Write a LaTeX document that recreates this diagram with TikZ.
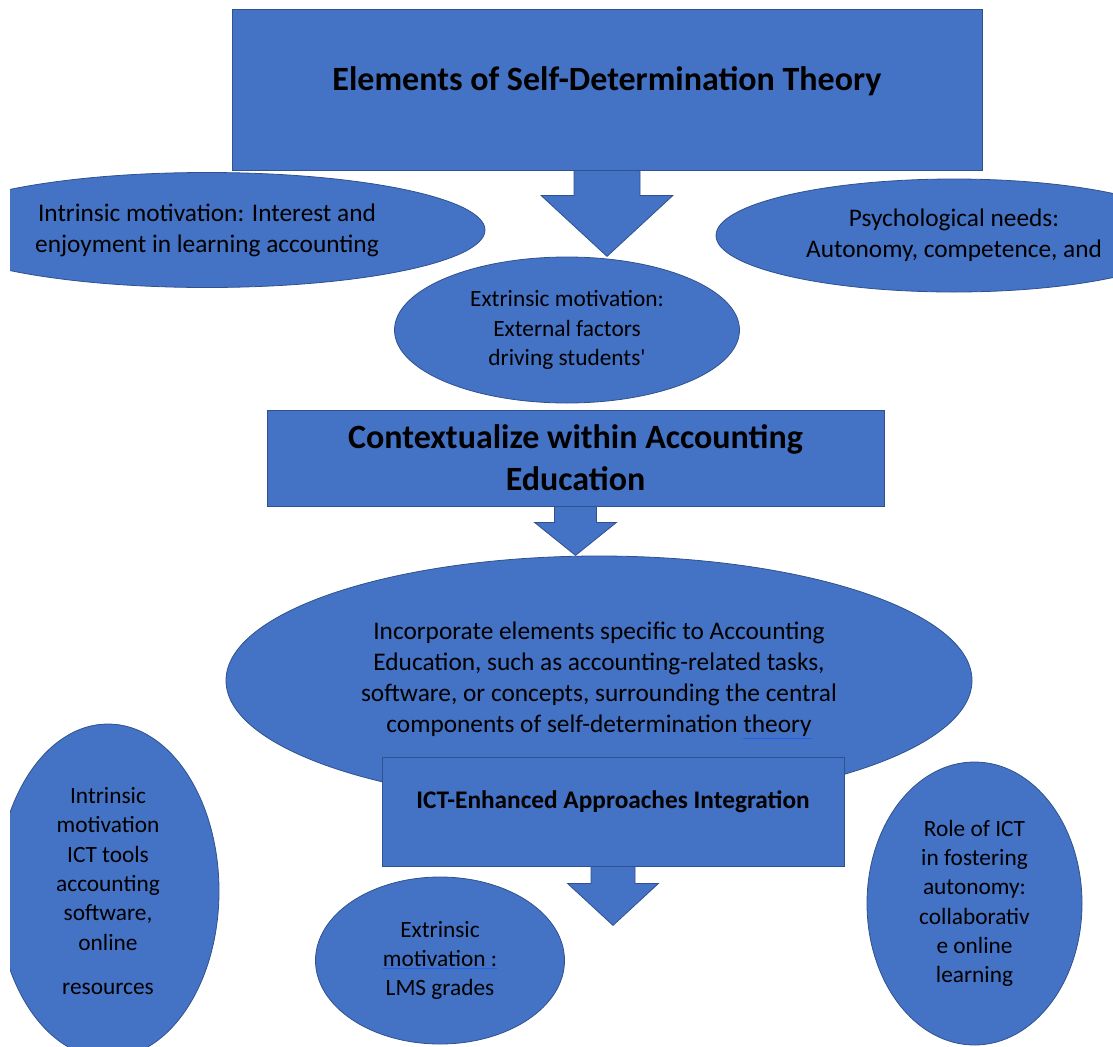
\documentclass[tikz,border=0pt]{standalone}
\usepackage{fontspec}
\setmainfont{Carlito}
\newfontfamily\straightfont{Carlito}[Ligatures=TeXOff]
\usepackage{tikz}
\usetikzlibrary{shapes.geometric, calc}

\definecolor{fillblue}{HTML}{4472C4}
\definecolor{edgeblue}{HTML}{2F528F}
\definecolor{spellblue}{HTML}{2160E8}

% blue spell-check underline
\newcommand{\spellmark}[1]{\textcolor{spellblue}{\underline{\textcolor{black}{#1}}}}
% block arrow hanging under a box: node, shaft half width, head half width, shaft length, tip
\newcommand{\blockarrow}[5]{%
  \draw[blob] ($(#1.south)+(-#2,0)$) -- ($(#1.south)+(-#2,#4)$) -- ($(#1.south)+(-#3,#4)$)
    -- ($(#1.south)+(0,#5)$) -- ($(#1.south)+(#3,#4)$) -- ($(#1.south)+(#2,#4)$)
    -- ($(#1.south)+(#2,0)$) -- cycle;}

\begin{document}
\begin{tikzpicture}[x=0.75pt, y=-0.75pt,
  blob/.style={fill=fillblue, draw=edgeblue, line width=0.6pt},
  box node/.style 2 args={blob, rectangle, inner sep=0pt, align=center,
    minimum width=#1*0.75pt, minimum height=#2*0.75pt},
  oval node/.style 2 args={blob, ellipse, inner sep=0pt, align=center,
    minimum width=#1*0.75pt, minimum height=#2*0.75pt, font=\fontsize{19}{23.25}\selectfont},
  small text/.style={font=\fontsize{17.5}{22}\selectfont},
  head text/.style={align=center, font=\bfseries\fontsize{25.5}{31.5}\selectfont}]

\useasboundingbox (0,0) rectangle (1113,1046);
\begin{scope}
\clip (10,0) rectangle (1113,1046);

% top level
\node[box node={750}{161}] (sdt) at (607,89.5) {};
\node[head text] (sdt title) at (607,81) {Elements of Self-Determination Theory};
\blockarrow{sdt}{33}{66}{25}{86}

\node[oval node={556}{115}] (intrinsic) at (207,230)
  {Intrinsic motivation: Interest and\\enjoyment in learning accounting};
\node[oval node={476}{113}] (needs) at (954,235.5)
  {Psychological needs:\\Autonomy, competence, and};
\node[oval node={345}{146}, small text] (extrinsic) at (567,330)
  {Extrinsic motivation:\\External factors\\driving students{\straightfont'}};

% accounting context
\node[box node={617}{96}, head text] (context) at (575.5,458)
  {Contextualize within Accounting\\Education};
\blockarrow{context}{21}{41}{16}{49}

\node[oval node={746}{249}] (incorporate) at (599,680.5)
  {Incorporate elements specific to Accounting\\
   Education, such as accounting-related tasks,\\
   software, or concepts, surrounding the central\\
   components of self-determination \spellmark{theory}};

% ICT level
\node[box node={462}{109}] (ict) at (613,811.5) {};
\node[head text, font=\bfseries\fontsize{19}{23}\selectfont] (ict title) at (613,802)
  {ICT-Enhanced Approaches Integration};
\blockarrow{ict}{22}{45.5}{17}{59}

\node[oval node={222}{334}, small text] (ict tools) at (108,891)
  {Intrinsic\\motivation\\ICT tools\\accounting\\software,\\online\\[11pt]resources};
\node[oval node={249}{167}, small text] (lms) at (440,960.5)
  {Extrinsic\\\spellmark{motivation :}\\LMS grades};
\node[oval node={215}{283}, small text] (role) at (974.5,903.5)
  {Role of ICT\\in fostering\\autonomy:\\collaborativ\\e online\\learning};

\end{scope}
\end{tikzpicture}
\end{document}
